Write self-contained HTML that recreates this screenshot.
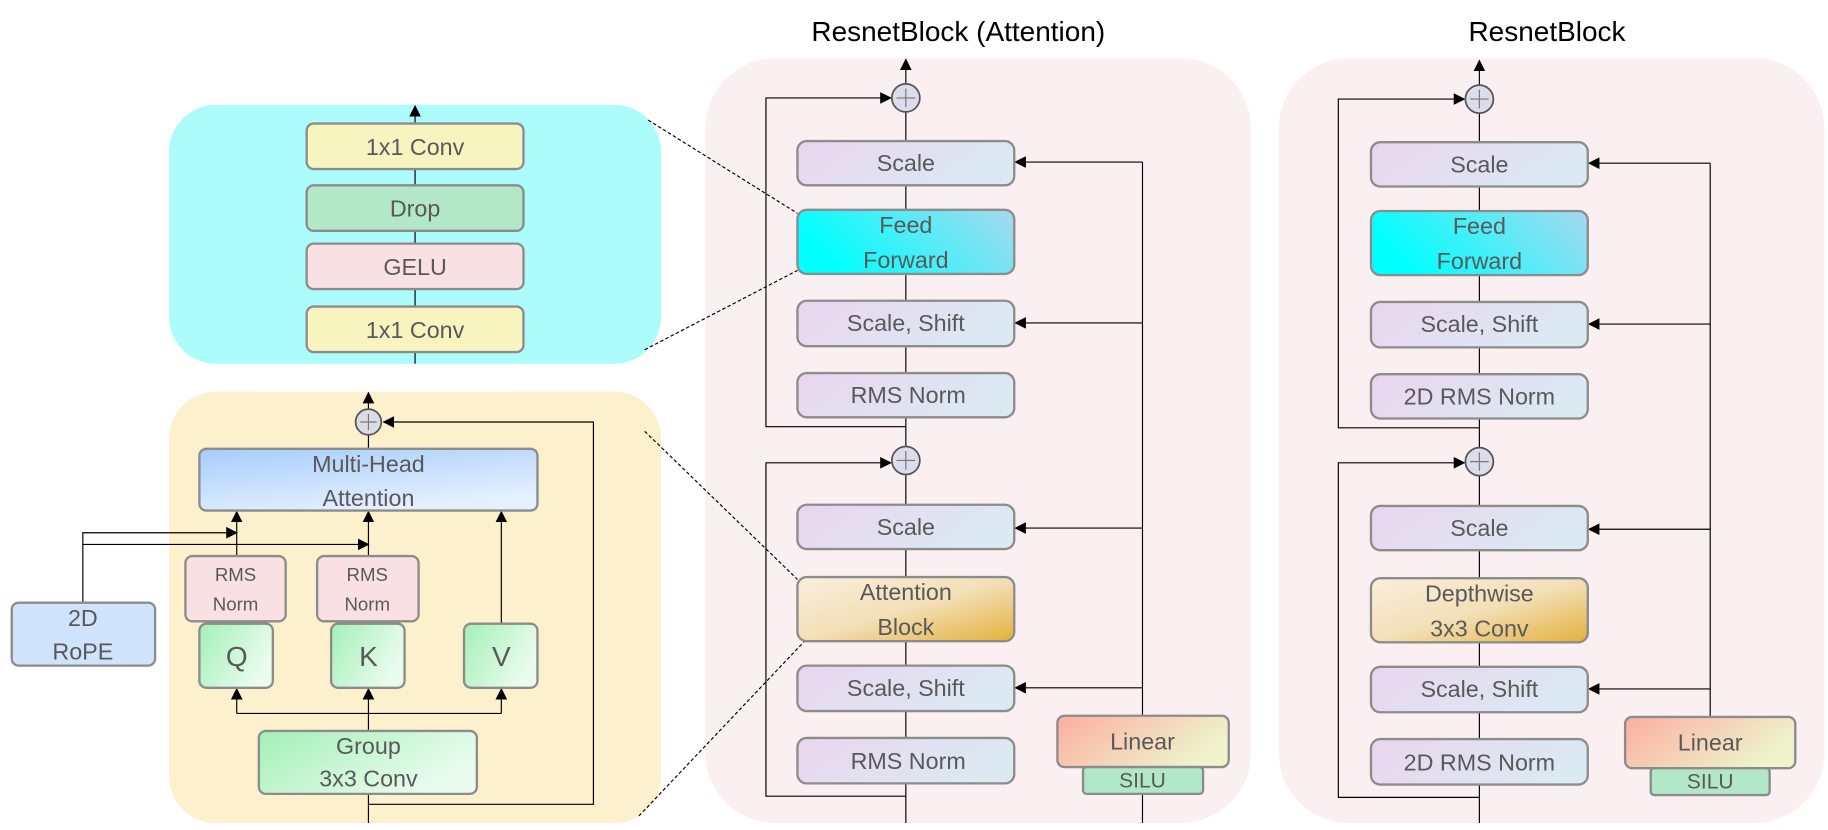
<!DOCTYPE html>
<html><head><meta charset="utf-8">
<style>
html,body{margin:0;padding:0;background:#fff;}
svg{display:block;}
text{font-family:"Liberation Sans",sans-serif;fill:#595959;text-anchor:middle;dominant-baseline:central;}
</style></head><body>
<svg width="1828" height="830" viewBox="0 0 1568 712" xmlns="http://www.w3.org/2000/svg">
<defs>
<marker id="a" markerWidth="10" markerHeight="10" refX="9" refY="5" orient="auto" markerUnits="userSpaceOnUse"><path d="M0,0 L10,5 L0,10 z" fill="#000"/></marker>
<linearGradient id="gp" x1="0" y1="0" x2="1" y2="0.3"><stop offset="0" stop-color="#ead5ee"/><stop offset="1" stop-color="#dbe9f3"/></linearGradient>
<linearGradient id="gff" x1="0" y1="0.3" x2="1" y2="0"><stop offset="0" stop-color="#00ffff"/><stop offset="1" stop-color="#a9d8ee"/></linearGradient>
<linearGradient id="gab" x1="0" y1="0" x2="1" y2="1"><stop offset="0" stop-color="#faeede"/><stop offset="0.5" stop-color="#f3e0b8"/><stop offset="1" stop-color="#e3b03a"/></linearGradient>
<linearGradient id="glin" x1="0" y1="0" x2="1" y2="0.4"><stop offset="0" stop-color="#fcaea0"/><stop offset="1" stop-color="#eef3cc"/></linearGradient>
<linearGradient id="gmha" x1="0" y1="0" x2="0.5" y2="1"><stop offset="0" stop-color="#a5cdfc"/><stop offset="1" stop-color="#e5f0ff"/></linearGradient>
<linearGradient id="gq" x1="0" y1="0" x2="1" y2="0.5"><stop offset="0" stop-color="#a3f0b6"/><stop offset="1" stop-color="#eafcef"/></linearGradient>
</defs>

<!-- titles -->
<text x="822" y="27" font-size="24" style="fill:#000">ResnetBlock (Attention)</text>
<text x="1327" y="27" font-size="24" style="fill:#000">ResnetBlock</text>

<!-- panels -->
<rect x="605" y="50" width="468" height="656" rx="60" fill="#fbf0f1"/>
<rect x="1097" y="50" width="468" height="656" rx="60" fill="#fbf0f1"/>
<rect x="145" y="90" width="422" height="222" rx="40" fill="#acfcfc"/>
<rect x="145" y="336" width="422" height="370" rx="40" fill="#fdf0cc"/>

<!-- dashed -->
<g stroke="#000" stroke-width="1" stroke-dasharray="3,2" fill="none">
<line x1="556" y1="103" x2="684" y2="183"/>
<line x1="553" y1="300" x2="684" y2="232"/>
<line x1="553" y1="370" x2="684" y2="497"/>
<line x1="548" y1="700" x2="692" y2="548"/>
</g>

<!-- cyan panel -->
<line x1="356" y1="312" x2="356" y2="91" stroke="#000" stroke-width="1" marker-end="url(#a)"/>
<g stroke="#8c8c8c" stroke-width="2">
<rect x="263" y="106" width="186" height="39" rx="6" fill="#f7f4c0"/>
<rect x="263" y="159" width="186" height="39" rx="6" fill="#b2e8c8"/>
<rect x="263" y="209" width="186" height="39" rx="6" fill="#f9e0e2"/>
<rect x="263" y="263" width="186" height="39" rx="6" fill="#f7f4c0"/>
</g>
<g font-size="20">
<text x="356" y="126">1x1 Conv</text><text x="356" y="179">Drop</text>
<text x="356" y="229">GELU</text><text x="356" y="283">1x1 Conv</text>
</g>

<!-- yellow panel -->
<g stroke="#000" stroke-width="1" fill="none">
<line x1="316" y1="351" x2="316" y2="337" marker-end="url(#a)"/>
<line x1="316" y1="385" x2="316" y2="373"/>
<polyline points="316,690 509,690 509,362 329,362" marker-end="url(#a)"/>
<line x1="316" y1="681" x2="316" y2="706"/>
<line x1="316" y1="627" x2="316" y2="612"/>
<line x1="203" y1="612" x2="430" y2="612"/>
<line x1="203" y1="612" x2="203" y2="591" marker-end="url(#a)"/>
<line x1="316" y1="612" x2="316" y2="591" marker-end="url(#a)"/>
<line x1="430" y1="612" x2="430" y2="591" marker-end="url(#a)"/>
<line x1="203" y1="477" x2="203" y2="439" marker-end="url(#a)"/>
<line x1="316" y1="477" x2="316" y2="439" marker-end="url(#a)"/>
<line x1="430" y1="535" x2="430" y2="439" marker-end="url(#a)"/>
<polyline points="71,517 71,457 203,457" marker-end="url(#a)"/>
<line x1="71" y1="467" x2="316" y2="467" marker-end="url(#a)"/>
</g>
<circle cx="316" cy="362" r="11" fill="#dcdce6" stroke="#555" stroke-width="1.5"/>
<path d="M309,362 H323 M316,355 V369" stroke="#777" stroke-width="1"/>
<g stroke="#8c8c8c" stroke-width="2">
<rect x="171" y="385" width="290" height="53" rx="6" fill="url(#gmha)"/>
<rect x="159" y="477" width="86" height="56" rx="6" fill="#f9e0e2"/>
<rect x="272" y="477" width="87" height="56" rx="6" fill="#f9e0e2"/>
<rect x="171" y="535" width="63" height="55" rx="6" fill="url(#gq)"/>
<rect x="284" y="535" width="63" height="55" rx="6" fill="url(#gq)"/>
<rect x="398" y="535" width="63" height="55" rx="6" fill="url(#gq)"/>
<rect x="222" y="627" width="187" height="54" rx="6" fill="url(#gq)"/>
<rect x="10" y="517" width="123" height="54" rx="6" fill="#cfe4fc"/>
</g>
<g font-size="20">
<text x="316" y="398">Multi-Head</text><text x="316" y="427">Attention</text>
<text x="316" y="640">Group</text><text x="316" y="668">3x3 Conv</text>
<text x="71" y="530">2D</text><text x="71" y="559">RoPE</text>
<text x="203" y="563" font-size="24">Q</text><text x="316" y="563" font-size="24">K</text><text x="430" y="563" font-size="24">V</text>
</g>
<g font-size="16">
<text x="202" y="493">RMS</text><text x="202" y="518">Norm</text>
<text x="315" y="493">RMS</text><text x="315" y="518">Norm</text>
</g>

<!-- middle resnet block -->
<g stroke="#000" stroke-width="1" fill="none">
<line x1="777" y1="72" x2="777" y2="51" marker-end="url(#a)"/>
<line x1="777" y1="96" x2="777" y2="383"/>
<line x1="777" y1="407" x2="777" y2="706"/>
<polyline points="777,366 657,366 657,84 764,84" marker-end="url(#a)"/>
<polyline points="777,683 657,683 657,397 764,397" marker-end="url(#a)"/>
<line x1="980" y1="614" x2="980" y2="139"/>
<line x1="980" y1="139" x2="871" y2="139" marker-end="url(#a)"/>
<line x1="980" y1="277" x2="871" y2="277" marker-end="url(#a)"/>
<line x1="980" y1="453" x2="871" y2="453" marker-end="url(#a)"/>
<line x1="980" y1="590" x2="871" y2="590" marker-end="url(#a)"/>
<line x1="980" y1="681" x2="980" y2="706"/>
</g>
<g stroke="#8c8c8c" stroke-width="2">
<rect x="684" y="121" width="186" height="38" rx="8" fill="url(#gp)"/>
<rect x="684" y="180" width="186" height="55" rx="8" fill="url(#gff)"/>
<rect x="684" y="258" width="186" height="39" rx="8" fill="url(#gp)"/>
<rect x="684" y="320" width="186" height="38" rx="8" fill="url(#gp)"/>
<rect x="684" y="433" width="186" height="38" rx="8" fill="url(#gp)"/>
<rect x="684" y="495" width="186" height="55" rx="8" fill="url(#gab)"/>
<rect x="684" y="571" width="186" height="39" rx="8" fill="url(#gp)"/>
<rect x="684" y="633" width="186" height="39" rx="8" fill="url(#gp)"/>
<rect x="907" y="614" width="147" height="44" rx="6" fill="url(#glin)"/>
<rect x="929" y="658" width="103" height="23" rx="3" fill="#b2e8c8"/>
</g>
<g fill="#dcdcec" stroke="#555" stroke-width="1.5">
<circle cx="777" cy="84" r="12"/><circle cx="777" cy="395" r="12"/>
</g>
<path d="M769,84 H785 M777,76 V92 M769,395 H785 M777,387 V403" stroke="#777" stroke-width="1"/>
<g font-size="20">
<text x="777" y="140">Scale</text>
<text x="777" y="193">Feed</text><text x="777" y="223">Forward</text>
<text x="777" y="277">Scale, Shift</text>
<text x="779" y="339">RMS Norm</text>
<text x="777" y="452">Scale</text>
<text x="777" y="508">Attention</text><text x="777" y="538">Block</text>
<text x="777" y="590">Scale, Shift</text>
<text x="779" y="653">RMS Norm</text>
<text x="980" y="636">Linear</text>
<text x="980" y="670" font-size="18">SILU</text>
</g>

<!-- right resnet block -->
<g stroke="#000" stroke-width="1" fill="none">
<line x1="1269" y1="73" x2="1269" y2="52" marker-end="url(#a)"/>
<line x1="1269" y1="97" x2="1269" y2="384"/>
<line x1="1269" y1="408" x2="1269" y2="706"/>
<polyline points="1269,367 1148,367 1148,85 1256,85" marker-end="url(#a)"/>
<polyline points="1269,684 1148,684 1148,397 1256,397" marker-end="url(#a)"/>
<line x1="1467" y1="615" x2="1467" y2="140"/>
<line x1="1467" y1="140" x2="1363" y2="140" marker-end="url(#a)"/>
<line x1="1467" y1="278" x2="1363" y2="278" marker-end="url(#a)"/>
<line x1="1467" y1="454" x2="1363" y2="454" marker-end="url(#a)"/>
<line x1="1467" y1="591" x2="1363" y2="591" marker-end="url(#a)"/>
</g>
<g stroke="#8c8c8c" stroke-width="2">
<rect x="1176" y="122" width="186" height="38" rx="8" fill="url(#gp)"/>
<rect x="1176" y="181" width="186" height="55" rx="8" fill="url(#gff)"/>
<rect x="1176" y="259" width="186" height="39" rx="8" fill="url(#gp)"/>
<rect x="1176" y="321" width="186" height="38" rx="8" fill="url(#gp)"/>
<rect x="1176" y="434" width="186" height="38" rx="8" fill="url(#gp)"/>
<rect x="1176" y="496" width="186" height="55" rx="8" fill="url(#gab)"/>
<rect x="1176" y="572" width="186" height="39" rx="8" fill="url(#gp)"/>
<rect x="1176" y="634" width="186" height="39" rx="8" fill="url(#gp)"/>
<rect x="1394" y="615" width="146" height="44" rx="6" fill="url(#glin)"/>
<rect x="1416" y="659" width="102" height="23" rx="3" fill="#b2e8c8"/>
</g>
<g fill="#dcdcec" stroke="#555" stroke-width="1.5">
<circle cx="1269" cy="85" r="12"/><circle cx="1269" cy="396" r="12"/>
</g>
<path d="M1261,85 H1277 M1269,77 V93 M1261,396 H1277 M1269,388 V404" stroke="#777" stroke-width="1"/>
<g font-size="20">
<text x="1269" y="141">Scale</text>
<text x="1269" y="194">Feed</text><text x="1269" y="224">Forward</text>
<text x="1269" y="278">Scale, Shift</text>
<text x="1269" y="340">2D RMS Norm</text>
<text x="1269" y="453">Scale</text>
<text x="1269" y="509">Depthwise</text><text x="1269" y="539">3x3 Conv</text>
<text x="1269" y="591">Scale, Shift</text>
<text x="1269" y="654">2D RMS Norm</text>
<text x="1467" y="637">Linear</text>
<text x="1467" y="671" font-size="18">SILU</text>
</g>
</svg>
</body></html>
